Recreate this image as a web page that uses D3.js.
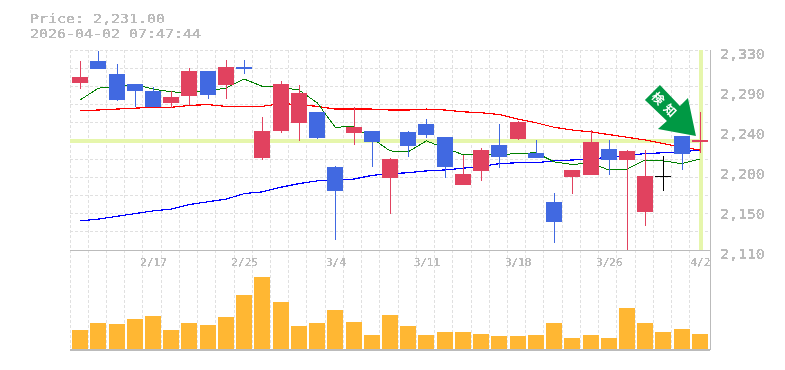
<!DOCTYPE html>
<html lang="ja">
<head>
<meta charset="utf-8">
<script src="https://d3js.org/d3.v7.min.js"></script>
<style>
  body { margin: 0; background: #fff; }
  text { font-family: "DejaVu Sans Mono", monospace; fill: #bbb; }
  .axis path, .axis line { display: none; }
</style>
</head>
<body>
<div id="chart"></div>
<script>
const dates = ["2/10","2/12","2/13","2/16","2/17","2/18","2/19","2/20","2/24","2/25","2/26","2/27","3/2","3/3","3/4","3/5","3/6","3/9","3/10","3/11","3/12","3/13","3/16","3/17","3/18","3/19","3/23","3/24","3/25","3/26","3/27","3/30","3/31","4/1","4/2"];
const opens  = [2294,2318,2304,2293,2285,2272,2279,2307,2291,2311,2211,2241,2250,2262,2201,2239,2241,2189,2240,2249,2234,2182,2197,2226,2232,2217,2163,2190,2192,2221,2209,2152,2191,2235,2229];
const highs  = [2318,2329,2315,2293,2289,2285,2310,2307,2319,2319,2256,2296,2292,2262,2202,2267,2241,2211,2241,2254,2234,2215,2222,2249,2252,2231,2173,2198,2242,2231,2220,2220,2213,2235,2262];
const lows   = [2287,2309,2274,2267,2267,2266,2270,2276,2276,2304,2209,2239,2230,2232,2121,2226,2201,2150,2212,2233,2189,2182,2186,2200,2231,2211,2118,2172,2192,2192,2110,2136,2175,2198,2217];
const closes = [2300,2309,2275,2285,2267,2278,2307,2280,2311,2309,2241,2293,2283,2233,2175,2245,2229,2210,2224,2237,2201,2194,2220,2212,2251,2211,2141,2198,2229,2209,2219,2191,2191,2216,2231];
const ma5  = [2275,2288,2290,2292,2287,2284,2283,2285,2288,2298,2290,2289,2286,2272,2245,2246,2233,2219,2218,2230,2222,2215,2215,2215,2216,2217,2207,2204,2206,2198,2199,2209,2208,2205,2210];
const ma25 = [2263,2264,2265,2266,2267,2267,2269,2270,2268,2268,2268,2271,2270,2268,2265,2265,2265,2264,2264,2265,2264,2262,2261,2259,2254,2250,2245,2242,2240,2237,2234,2231,2227,2223,2220];
const ma75 = [2142,2144,2147,2150,2153,2155,2160,2163,2166,2172,2174,2179,2183,2186,2187,2188,2192,2194,2195,2197,2198,2200,2202,2205,2206,2206,2208,2209,2210,2212,2214,2216,2217,2218,2220];
const volumes = [183,253,243,293,323,183,253,233,313,533,713,463,223,253,383,263,133,333,223,133,163,163,143,123,123,133,253,103,133,103,403,253,163,193,143];
const priceTicks = [2330,2286,2242,2198,2154,2110];
const priceLabels = ["2,330","2,290","2,240","2,200","2,150","2,110"];
const dateTicks = ["2/17","2/25","3/4","3/11","3/18","3/26","4/2"];
const titleLines = ["Price: 2,231.00","2026-04-02 07:47:44"];

var width = 785, height = 370;

var x = d3.scaleBand().domain(d3.range(dates.length)).range([71, 709.05]);
var y = d3.scaleLinear().domain([2110, 2330]).range([250, 50]);
var yVol = d3.scaleLinear().domain([0, 800]).range([348.5, 268.5]);
var mid = i => x(i) + x.bandwidth() / 2;

var svg = d3.select("#chart").append("svg")
  .attr("width", width).attr("height", height);

// hard edged text, the original has no antialiasing
var f = svg.append("defs").append("filter").attr("id", "hard")
  .attr("x", "-5%").attr("y", "-20%").attr("width", "110%").attr("height", "140%");
f.append("feComponentTransfer").append("feFuncA")
  .attr("type", "discrete").attr("tableValues", "0 1 1 1");

// grid
var grid = svg.append("g").attr("stroke", "#e0e0e0").attr("stroke-dasharray", "3,2")
  .attr("shape-rendering", "crispEdges");
grid.selectAll(".h").data(d3.range(2110, 2331, 20)).enter().append("line")
  .attr("x1", 70).attr("x2", 709).attr("y1", d => y(d)).attr("y2", d => y(d));
grid.selectAll(".v").data(d3.range(dates.length)).enter().append("line")
  .attr("x1", d => x(d) - 1).attr("x2", d => x(d) - 1).attr("y1", 50).attr("y2", 350);

// frame
var frame = svg.append("g").attr("stroke", "#bbb").attr("shape-rendering", "crispEdges");
frame.append("line").attr("x1", 70).attr("x2", 710).attr("y1", 250).attr("y2", 250);
frame.append("line").attr("x1", 70).attr("x2", 710).attr("y1", 350).attr("y2", 350).attr("stroke-width", 2);
frame.append("line").attr("x1", 710).attr("x2", 710).attr("y1", 50).attr("y2", 350);

// last price cross
var last = dates.length - 1;
var bands = svg.append("g").attr("stroke", "#e6f6ac").attr("stroke-width", 4)
  .attr("shape-rendering", "crispEdges");
bands.append("line").attr("x1", 70).attr("x2", mid(last) + 2)
  .attr("y1", y(closes[last]) + 0.5).attr("y2", y(closes[last]) + 0.5);
bands.append("line").attr("x1", mid(last) + 1).attr("x2", mid(last) + 1).attr("y1", 50).attr("y2", 250);

// moving averages
var line = d3.line().x((d, i) => mid(i)).y(d => y(d));
[[ma75, "#0000ff", 1.2], [ma25, "#ff0000", 1.2], [ma5, "#007f00", 1]].forEach(function (s) {
  svg.append("path").datum(s[0]).attr("d", line).attr("fill", "none")
    .attr("stroke", s[1]).attr("stroke-width", s[2]).attr("shape-rendering", "crispEdges");
});

// candles
function candleColor(i) {
  if (closes[i] > opens[i]) return "#e1425f";
  if (closes[i] < opens[i]) return "#4169e1";
  return "#000";
}
var candles = svg.append("g").attr("shape-rendering", "crispEdges");
candles.selectAll(".wick").data(dates).enter().append("line")
  .attr("x1", (d, i) => Math.round(mid(i)) + 0.5).attr("x2", (d, i) => Math.round(mid(i)) + 0.5)
  .attr("y1", (d, i) => y(highs[i])).attr("y2", (d, i) => y(lows[i]))
  .attr("stroke", (d, i) => candleColor(i));
candles.selectAll(".body").data(dates).enter().append("rect")
  .attr("x", (d, i) => Math.round(mid(i)) - 8)
  .attr("width", 16)
  .attr("y", (d, i) => y(Math.max(opens[i], closes[i])))
  .attr("height", (d, i) => Math.max(1, Math.abs(y(opens[i]) - y(closes[i]))))
  .attr("fill", (d, i) => candleColor(i));

// volume
svg.append("g").selectAll("rect").data(volumes).enter().append("rect")
  .attr("x", (d, i) => Math.round(mid(i)) - 8)
  .attr("width", 16)
  .attr("y", d => yVol(d))
  .attr("height", d => yVol(0) - yVol(d))
  .attr("fill", "#ffb733")
  .attr("shape-rendering", "crispEdges");

// axes
var texts = svg.append("g").attr("filter", "url(#hard)");
var yAxis = d3.axisRight(y).tickValues(priceTicks)
  .tickFormat((d, i) => priceLabels[i]).tickSize(0).tickPadding(10);
texts.append("g").attr("class", "axis").attr("transform", "translate(710,0)").call(yAxis)
  .call(g => g.selectAll("text").attr("font-size", 14.9).attr("dy", 8).style("fill", "#bbb")
    .style("font-family", '"DejaVu Sans Mono", monospace'));

var xAxis = d3.axisBottom(d3.scalePoint().domain(dates).range([mid(0), mid(last)]))
  .tickValues(dateTicks).tickSize(0).tickPadding(8);
texts.append("g").attr("class", "axis").attr("transform", "translate(0,250)").call(xAxis)
  .call(g => g.selectAll("text").attr("font-size", 11).style("fill", "#bbb")
    .style("font-family", '"DejaVu Sans Mono", monospace'));

// title glyphs are wider than they are tall, so stretch sideways
texts.selectAll(".title").data(titleLines).enter().append("text")
  .attr("transform", (d, i) => "translate(30," + (22.5 + i * 15) + ") scale(1.15,1)")
  .attr("font-size", 13).text(d => d);

// signal arrow, hangs off the last-but-one candle
var arrowShape = [[-36,-51],[-16,-30],[-8,-38],[0,0],[-38,-7],[-29,-15],[-51,-36]];
var arrow = svg.append("g")
  .attr("transform", "translate(" + (mid(last) - 4) + "," + (y(closes[last]) - 4) + ")");
arrow.append("polygon").attr("points", arrowShape.join(" ")).attr("fill", "#009944");
arrow.append("text").attr("transform", "translate(-30,-30) rotate(45)")
  .attr("text-anchor", "middle").attr("dy", 4.5).attr("font-size", 12)
  .attr("letter-spacing", 5).attr("font-weight", "bold")
  .style("font-family", '"Noto Sans CJK JP"').style("fill", "#fff").text("検知");
</script>
</body>
</html>
